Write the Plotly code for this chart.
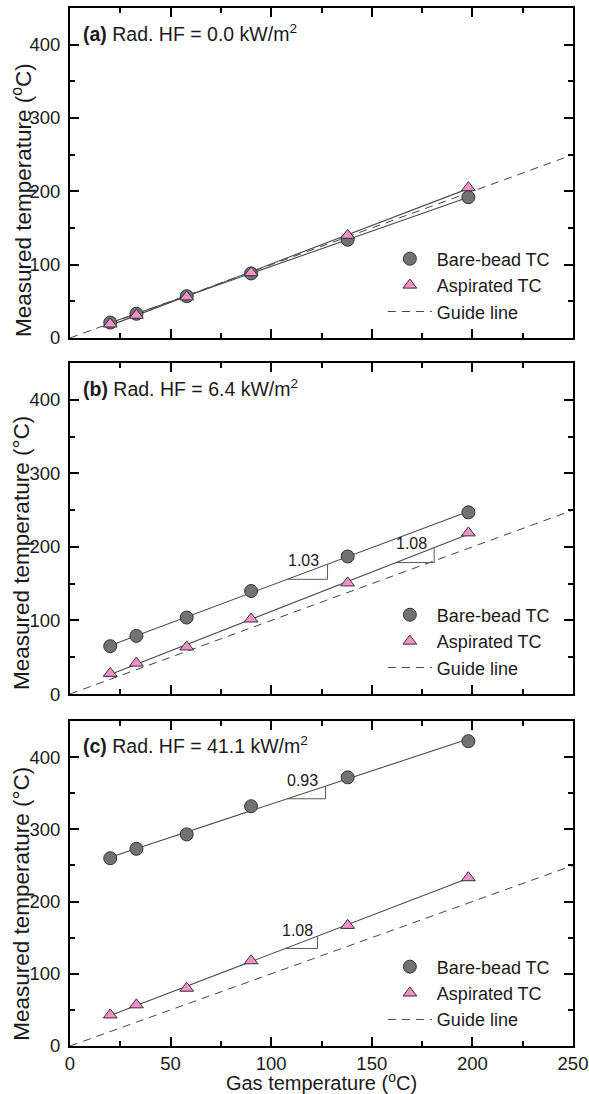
import numpy as np
import plotly.graph_objects as go

# ---------------- data ----------------
gas_temp = [20, 33, 58, 90, 138, 198]

bare_a = [21, 33, 57, 88, 134, 192]
asp_a = [19, 31, 56, 89, 140, 205]

bare_b = [65, 79, 104, 140, 187, 247]
asp_b = [28, 42, 64, 102, 151, 219]

bare_c = [260, 273, 293, 332, 372, 422]
asp_c = [43, 57, 80, 118, 167, 233]

guide_x = [0, 250]

panel_labels = ["<b>(a)</b> Rad. HF = 0.0 kW/m<sup>2</sup>",
                "<b>(b)</b> Rad. HF = 6.4 kW/m<sup>2</sup>",
                "<b>(c)</b> Rad. HF = 41.1 kW/m<sup>2</sup>"]

# slope markers: (panel index, series, x start, x end, label)
slope_panels = [1, 1, 2, 2]
slope_series = ["bare", "asp", "bare", "asp"]
slope_x0 = [108, 162, 108, 107]
slope_x1 = [128, 181, 127, 123]
slope_text = ["1.03", "1.08", "0.93", "1.08"]

x_ticks = [0, 50, 100, 150, 200, 250]
y_ticks = [0, 100, 200, 300, 400]

# ---------------- style ----------------
FONT = "Arial, 'Liberation Sans', sans-serif"
TXT = "#1a1a1a"
BARE_FILL = "#727272"
ASP_FILL = "#f590c8"
EDGE = "#333333"
FIT_COLOR = "#4a4a4a"

panels = [(bare_a, asp_a), (bare_b, asp_b), (bare_c, asp_c)]
ydomains = [[0.6821, 1.0], [0.3391, 0.658], [0.0, 0.3131]]
legend_y = [0.776, 0.433, 0.094]
ytitles = ["Measured temperature (<sup>o</sup>C)",
           "Measured temperature (°C)",
           "Measured temperature (°C)"]
ytitle_pos = [0.815, 0.475, 0.137]

fig = go.Figure()
fits = []
for i, (bare, asp) in enumerate(panels):
    k = "" if i == 0 else str(i + 1)
    xa, ya = "x" + k, "y" + k
    leg = "legend" + k
    pb = np.polyfit(gas_temp, bare, 1)
    pa = np.polyfit(gas_temp, asp, 1)
    fits.append({"bare": pb, "asp": pa})
    xs = np.array([min(gas_temp), max(gas_temp)])
    # guide line
    fig.add_trace(go.Scatter(x=guide_x, y=guide_x, mode="lines",
                             line=dict(color="#444444", width=1, dash="8px,6px"),
                             name="Guide line", xaxis=xa, yaxis=ya, legend=leg,
                             legendrank=3))
    # fits
    for p in (pb, pa):
        fig.add_trace(go.Scatter(x=xs, y=np.polyval(p, xs), mode="lines",
                                 line=dict(color=FIT_COLOR, width=1.1),
                                 showlegend=False, xaxis=xa, yaxis=ya,
                                 hoverinfo="skip"))
    fig.add_trace(go.Scatter(x=gas_temp, y=bare, mode="markers", name="Bare-bead TC",
                             marker=dict(symbol="circle", size=13, color=BARE_FILL,
                                         line=dict(color=EDGE, width=1)),
                             xaxis=xa, yaxis=ya, legend=leg, legendrank=1))
    fig.add_trace(go.Scatter(x=gas_temp, y=asp, mode="markers", name="Aspirated TC",
                             marker=dict(symbol="triangle-up", size=12, color=ASP_FILL,
                                         line=dict(color=EDGE, width=1)),
                             xaxis=xa, yaxis=ya, legend=leg, legendrank=2))

# slope triangles
annotations = []
for pi, ser, x0, x1, txt in zip(slope_panels, slope_series, slope_x0, slope_x1, slope_text):
    p = fits[pi][ser]
    k = str(pi + 1)
    y0 = np.polyval(p, x0)
    y1 = np.polyval(p, x1)
    fig.add_trace(go.Scatter(x=[x0, x1, x1], y=[y0, y0, y1], mode="lines",
                             line=dict(color="#5a5a5a", width=1),
                             showlegend=False, xaxis="x" + k, yaxis="y" + k,
                             hoverinfo="skip"))
    xm = (x0 + x1) / 2 - 2
    annotations.append(dict(x=xm, y=np.polyval(p, xm), xref="x" + k, yref="y" + k,
                            text=txt, showarrow=False, yshift=13,
                            font=dict(family=FONT, size=16, color=TXT)))

for i, lab in enumerate(panel_labels):
    k = "" if i == 0 else str(i + 1)
    annotations.append(dict(x=0.022, y=0.925, xref="x" + k + " domain",
                            yref="y" + k + " domain", text=lab, showarrow=False,
                            xanchor="left", yanchor="middle",
                            font=dict(family=FONT, size=19.5, color=TXT)))

# y-axis titles as rotated annotations
for i, t in enumerate(ytitles):
    annotations.append(dict(x=-0.0954, y=ytitle_pos[i], xref="paper", yref="paper",
                            text=t, showarrow=False, textangle=-90,
                            xanchor="center", yanchor="middle",
                            font=dict(family=FONT, size=22.5, color=TXT)))

axis_common = dict(showline=True, linewidth=2, linecolor="black", mirror="allticks",
                   ticks="inside", ticklen=9, tickwidth=1.5, tickcolor="black",
                   showgrid=False, zeroline=False, automargin=False,
                   ticklabeloverflow="allow",
                   tickfont=dict(family=FONT, size=18.5, color=TXT))

layout = dict(width=589, height=1094, plot_bgcolor="white", paper_bgcolor="white",
              margin=dict(l=70, r=16, t=8, b=48, autoexpand=False),
              annotations=annotations,
              font=dict(family=FONT, color=TXT), showlegend=True)

for i in range(3):
    k = "" if i == 0 else str(i + 1)
    layout["xaxis" + k] = dict(axis_common, range=[0, 250], tickvals=x_ticks,
                               minor=dict(ticks="inside", ticklen=5, dtick=25,
                                          tickwidth=1.5, tickcolor="black"),
                               anchor="y" + k, domain=[0, 1],
                               showticklabels=(i == 2))
    layout["yaxis" + k] = dict(axis_common, range=[0, 450], tickvals=y_ticks,
                               minor=dict(ticks="inside", ticklen=5, dtick=50,
                                          tickwidth=1.5, tickcolor="black"),
                               anchor="x" + k, domain=ydomains[i],
                               ticklabelstandoff=4)
    layout["legend" + k] = dict(x=0.622, y=legend_y[i], xanchor="left", yanchor="top",
                                bgcolor="rgba(0,0,0,0)", itemwidth=44,
                                tracegroupgap=0,
                                font=dict(family=FONT, size=18, color=TXT))

layout["xaxis3"]["title"] = dict(text="Gas temperature (<sup>o</sup>C)", standoff=2,
                                 font=dict(family=FONT, size=20, color=TXT))

fig.update_layout(**layout)
fig.write_html("out.html", config={"displayModeBar": False},
               post_script="document.body.style.margin='0';"
                           "document.body.style.overflow='hidden';")
